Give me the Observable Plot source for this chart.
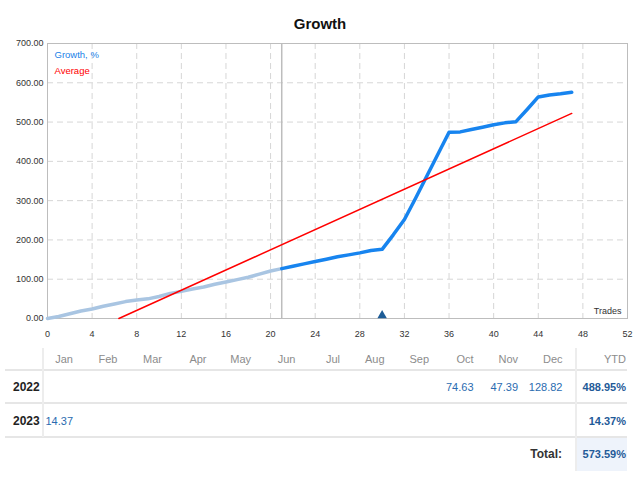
<!DOCTYPE html>
<html>
<head>
<meta charset="utf-8">
<script src="https://cdn.jsdelivr.net/npm/d3@7"></script>
<script src="https://cdn.jsdelivr.net/npm/@observablehq/plot@0.6"></script>
<style>
  html, body { margin: 0; padding: 0; background: #fff; }
  #wrap { position: relative; width: 640px; height: 480px; overflow: hidden; font-family: "Liberation Sans", Arial, sans-serif; }
  #title { position: absolute; top: 14px; left: 0; width: 640px; text-align: center; font-weight: bold; font-size: 15px; line-height: 19px; color: #111; }
  #chart { position: absolute; top: 38px; left: 0; }
  .cell { position: absolute; height: 16px; line-height: 16px; font-size: 11px; white-space: nowrap; }
  .hline { position: absolute; height: 2px; background: #e6e6e6; }
  .vline { position: absolute; width: 2px; background: #ededed; }
</style>
</head>
<body>
<div id="wrap">
  <div id="title">Growth</div>
  <div id="chart"></div>
  <div id="table"></div>
</div>
<script>
// ---- chart data ----
const lightTrades = [0,1,2,3,4,5,6,7,8,9,10,11,12,13,14,15,16,17,18,19,20,21];
const lightGrowth = [0,5,12,19,24,31,37,43,47,50,56,64,69,75,80,87,93,99,105,113,121,127];
const darkTrades = [21,22,23,24,25,26,27,28,29,30,31,32,33,34,35,36,37,38,39,40,41,42,43,44,45,46,47];
const darkGrowth = [127,133,139,145,151,157,162,167,173,176,213,252,306,362,418,474,475,481,487,493,498,501,532,564,569,572,576];
const avgTrades = [6.4, 47];
const avgValues = [0, 522];
const markerTrades = [30];
const currentTrade = [21];
const xTicks = [0,4,8,12,16,20,24,28,32,36,40,44,48,52];
const yTicks = [0,100,200,300,400,500,600,700];
const xGrid = [4,8,12,16,20,24,28,32,36,40,44,48];
const yGrid = [100,200,300,400,500,600];

// ---- table data ----
const months = ["Jan","Feb","Mar","Apr","May","Jun","Jul","Aug","Sep","Oct","Nov","Dec"];
const years = ["2022","2023"];
const monthly2022 = [null,null,null,null,null,null,null,null,null,74.63,47.39,128.82];
const monthly2023 = [14.37,null,null,null,null,null,null,null,null,null,null,null];
const ytdValues = [488.95, 14.37];
const totalValue = 573.59;

const light = lightTrades.map((t,i) => ({t, v: lightGrowth[i]}));
const dark = darkTrades.map((t,i) => ({t, v: darkGrowth[i]}));
const avg = avgTrades.map((t,i) => ({t, v: avgValues[i]}));

const chart = Plot.plot({
  width: 640,
  height: 304,
  marginLeft: 47,
  marginRight: 13,
  marginTop: 5,
  marginBottom: 24,
  style: { fontFamily: "Liberation Sans, Arial, sans-serif", fontSize: "9px", color: "#333", background: "white", overflow: "visible" },
  x: { domain: [0, 52], ticks: xTicks, tickSize: 0, tickPadding: 12, label: null },
  y: { domain: [0, 700], ticks: yTicks, tickSize: 0, tickPadding: 4, tickFormat: d3.format(".2f"), label: null },
  marks: [
    Plot.ruleX(xGrid, { stroke: "#d6d6d6", strokeDasharray: "6,4" }),
    Plot.ruleY(yGrid, { stroke: "#d6d6d6", strokeDasharray: "6,4" }),
    Plot.ruleX(currentTrade, { stroke: "#bdbdbd", strokeWidth: 1.5 }),
    Plot.frame({ stroke: "#bdbdbd" }),
    Plot.line(light, { x: "t", y: "v", stroke: "#a9c5e2", strokeWidth: 3.5 }),
    Plot.line(dark, { x: "t", y: "v", stroke: "#1784ef", strokeWidth: 3.5 }),
    Plot.line(avg, { x: "t", y: "v", stroke: "#ff0000", strokeWidth: 1.5 }),
    Plot.dot(markerTrades, { x: d => d, y: () => 0, symbol: "triangle", fill: "#1d5c96", r: 3.5, dy: -3, stroke: "none" }),
    Plot.text(["Growth, %"], { frameAnchor: "top-left", dx: 7, dy: 8, fill: "#1a7fe8", fontSize: 9.5, textAnchor: "start" }),
    Plot.text(["Average"], { frameAnchor: "top-left", dx: 7, dy: 24, fill: "#ff0000", fontSize: 9.5, textAnchor: "start" }),
    Plot.text(["Trades"], { frameAnchor: "bottom-right", dx: -6, dy: -5, fill: "#333", fontSize: 9, textAnchor: "end" })
  ]
});
document.getElementById("chart").appendChild(chart);

// ---- table ----
const tbl = document.getElementById("table");
function add(cls, style, text) {
  const d = document.createElement("div");
  d.className = cls;
  Object.assign(d.style, style);
  if (text != null) d.textContent = text;
  tbl.appendChild(d);
  return d;
}
// background of total cell
add("", { position: "absolute", left: "577px", top: "438px", width: "50px", height: "33px", background: "#eef3fb" });
// lines
[370, 403, 437].forEach(y => add("hline", { left: "5px", width: "622px", top: (y - 1) + "px" }));
add("vline", { left: "42px", top: "348px", height: "89px" });
add("vline", { left: "575px", top: "348px", height: "123px" });

const colRight = i => 73 + i * 44.5;
function rightText(text, right, cy, style) {
  add("cell", Object.assign({ right: (640 - right) + "px", top: (cy - 8) + "px", textAlign: "right" }, style), text);
}
months.forEach((m, i) => rightText(m, colRight(i), 359, { color: "#8c8c8c" }));
rightText("YTD", 626, 359, { color: "#8c8c8c" });

const rows = [monthly2022, monthly2023];
const rowY = [387, 421];
years.forEach((yr, r) => {
  add("cell", { left: "13px", top: (rowY[r] - 8) + "px", fontWeight: "bold", color: "#222", fontSize: "12px" }, yr);
  rows[r].forEach((v, i) => {
    if (v != null) rightText(v.toFixed(2), colRight(i), rowY[r], { color: "#2a6bb0" });
  });
  rightText(ytdValues[r].toFixed(2) + "%", 626, rowY[r], { color: "#1f5a98", fontWeight: "bold" });
});
rightText("Total:", 562, 454, { color: "#333", fontWeight: "bold", fontSize: "12px" });
rightText(totalValue.toFixed(2) + "%", 626, 454, { color: "#1f5a98", fontWeight: "bold" });
</script>
</body>
</html>
